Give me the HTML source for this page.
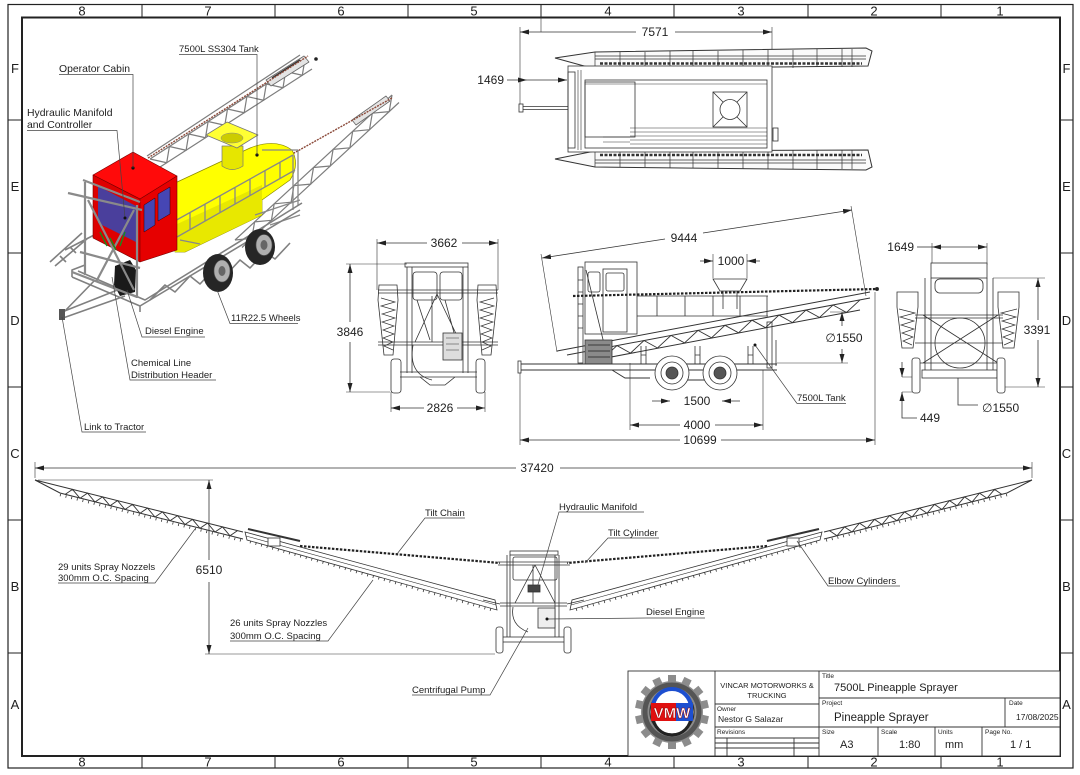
<!DOCTYPE html>
<html><head><meta charset="utf-8"><title>7500L Pineapple Sprayer</title>
<style>
html,body{margin:0;padding:0;background:#fff;width:1080px;height:775px;overflow:hidden}
svg{display:block}
text{font-family:"Liberation Sans","DejaVu Sans",sans-serif;fill:#1e1e1e}
.z{font-size:13px}
.d{font-size:12px}
.l{font-size:9.5px}
.s{font-size:6.5px}
.t{font-size:11.5px}
</style></head><body>
<svg width="1080" height="775" viewBox="0 0 1080 775" xmlns="http://www.w3.org/2000/svg">
<defs>
<marker id="ar" markerUnits="userSpaceOnUse" markerWidth="9" markerHeight="5" refX="9" refY="2.5" orient="auto-start-reverse"><path d="M0,0L9,2.5L0,5z" fill="#222"/></marker>
</defs>
<rect width="1080" height="775" fill="#fff"/>

<!-- BORDER -->
<g fill="none" stroke="#222">
<rect x="8" y="4.5" width="1065" height="763.5" stroke-width="1.2"/>
<rect x="22" y="17.5" width="1038" height="738.5" stroke-width="2"/>
<path stroke-width="1" d="M142,4.5V17.5M275,4.5V17.5M408,4.5V17.5M541,4.5V17.5M674,4.5V17.5M808,4.5V17.5M941,4.5V17.5M142,756V768M275,756V768M408,756V768M541,756V768M674,756V768M808,756V768M941,756V768M8,120H22M8,253H22M8,387H22M8,520H22M8,653H22M1060,120H1073M1060,253H1073M1060,387H1073M1060,520H1073M1060,653H1073"/>
</g>
<g class="z" text-anchor="middle">
<text x="82" y="15.5">8</text><text x="208" y="15.5">7</text><text x="341" y="15.5">6</text><text x="474" y="15.5">5</text><text x="608" y="15.5">4</text><text x="741" y="15.5">3</text><text x="874" y="15.5">2</text><text x="1000" y="15.5">1</text>
<text x="82" y="766.5">8</text><text x="208" y="766.5">7</text><text x="341" y="766.5">6</text><text x="474" y="766.5">5</text><text x="608" y="766.5">4</text><text x="741" y="766.5">3</text><text x="874" y="766.5">2</text><text x="1000" y="766.5">1</text>
<text x="15" y="73">F</text><text x="15" y="191">E</text><text x="15" y="325">D</text><text x="15" y="458">C</text><text x="15" y="591">B</text><text x="15" y="709">A</text>
<text x="1066.5" y="73">F</text><text x="1066.5" y="191">E</text><text x="1066.5" y="325">D</text><text x="1066.5" y="458">C</text><text x="1066.5" y="591">B</text><text x="1066.5" y="709">A</text>
</g>

<!-- ===== ISOMETRIC VIEW ===== -->
<g stroke-linejoin="round">
<!-- boom A -->
<g fill="none" stroke="#7d7d7d" stroke-width="1.2">
<path d="M150,159 L305,59 M157,169 L312,69 M147,156 L300,55"/>
<path d="M150,159 L166.7,162.75 L169.4,146.5 L186.1,150.25 L188.8,134 L205.5,137.75 L208.1,121.5 L224.8,125.25 L227.5,109 L244.2,112.75 L246.9,96.5 L263.6,100.25 L266.3,84 L283,87.75 L285.6,71.5 L302.3,75.25 L305,59"/>
</g>
<path d="M266,80 L304,56 L309,62 L271,86 Z" fill="#e4e4e4" stroke="#666" stroke-width="0.8"/>
<path d="M272,78 L300,60" stroke="#333" stroke-width="1.5"/>
<circle cx="316" cy="59" r="1.8" fill="#222"/>
<line x1="148" y1="158" x2="308" y2="56" stroke="#8b4a3a" stroke-width="1.4" stroke-dasharray="2,1"/>
<!-- boom B -->
<g fill="none" stroke="#7d7d7d" stroke-width="1.2">
<path d="M235,240 L392,95 M242,247.5 L399,102.5"/>
<path d="M235,240 L251.8,238.4 L254.6,221.9 L271.4,220.3 L274.2,203.8 L291.1,202.2 L293.9,185.6 L310.7,184.1 L313.5,167.5 L330.3,166 L333.1,149.4 L349.9,147.8 L352.7,131.3 L369.5,129.7 L372.3,113.2 L389.2,111.6 L392,95"/>
</g>
<path d="M352,120 L386,96 L390,101 L356,125 Z" fill="#e4e4e4" stroke="#666" stroke-width="0.8"/>
<line x1="262" y1="171" x2="392" y2="98" stroke="#8b4a3a" stroke-width="1.4" stroke-dasharray="2,1"/>
<!-- tank -->
<path d="M175,183 L250,148 Q275,138 292,150 Q300,165 290,180 L262,200 L262,215 L185,252 L175,252 Z" fill="#ffff00" stroke="#8a8a00" stroke-width="0.7"/>
<path d="M175,225 L262,185 L262,215 L185,252 L175,252 Z" fill="#e8e800"/>
<path d="M222,146 L222,166 Q232,173 243,166 L243,146 Z" fill="#e6e600" stroke="#777" stroke-width="0.7"/>
<path d="M206,135 L227,122 L258,135 L237,148 Z" fill="#ffff33" stroke="#777" stroke-width="0.8"/>
<ellipse cx="232" cy="138" rx="11" ry="5" fill="#cccc00" stroke="#888" stroke-width="0.5"/>
<circle cx="257" cy="155" r="1.6" fill="#111"/>
<!-- railing -->
<g fill="none" stroke="#888" stroke-width="1.3">
<path d="M173,222 L293,155 M177,237 L295,170 M190,212.5V229.6 M205,204.1V221.1 M220,195.8V212.6 M235,187.4V204.1 M250,179V195.6 M265,170.6V187 M280,162.2V178.5 M293,155V210 M298,150V205"/>
<path d="M180,240 L200,244 M262,150 L298,150 M255,215 L300,200 M270,225 L300,215"/>
</g>
<!-- chassis -->
<g fill="none" stroke="#808080" stroke-width="1.6">
<path d="M72,277 L140,306 L300,210 M78,271 L145,300 L302,203 M72,277 L72,270 L85,265 M140,306 L140,312"/>
<path d="M150,300 L165,285 L175,292 L190,276 L200,284 L215,268 L225,276 L240,260 L250,268 L265,252 L275,259 L290,243"/>
<path d="M62,312 L120,289 M63,318 L125,296 M62,314 L95,280"/>
<path d="M50,262 L82,233 M55,266 L88,238 M60,256 L66,262 M70,247 L76,253 M65,250 L100,232"/>
</g>
<rect x="59" y="309" width="6" height="11" fill="#555"/>
<!-- engine -->
<path d="M115,266 L130,260 L136,270 L135,292 L120,296 L114,285 Z" fill="#1a1a1a"/>
<!-- wheels -->
<ellipse cx="218" cy="273" rx="15" ry="19" fill="#262626"/>
<ellipse cx="222" cy="271" rx="8" ry="11" fill="#b0b0b0" stroke="#555" stroke-width="0.6"/>
<ellipse cx="222" cy="271" rx="3.5" ry="5" fill="#666"/>
<ellipse cx="260" cy="247" rx="15" ry="18" fill="#262626"/>
<ellipse cx="264" cy="245" rx="8" ry="10.5" fill="#b0b0b0" stroke="#555" stroke-width="0.6"/>
<ellipse cx="264" cy="245" rx="3.5" ry="5" fill="#666"/>
<!-- cabin -->
<path d="M93,175 L133,152 L177,176 L140,199 Z" fill="#ff0a0a" stroke="#700" stroke-width="0.6"/>
<path d="M93,175 L140,199 L140,262 L93,238 Z" fill="#dd0000" stroke="#700" stroke-width="0.6"/>
<path d="M140,199 L177,176 L177,250 L140,262 Z" fill="#e60000" stroke="#700" stroke-width="0.6"/>
<path d="M98,186 L136,206 L136,242 L98,223 Z" fill="#4a3f9c"/>
<path d="M144,205 L155,198 L155,225 L144,232 Z M158,194 L170,187 L170,214 L158,221 Z" fill="#4646b4" stroke="#300" stroke-width="0.5"/>
<circle cx="133" cy="168" r="1.6" fill="#111"/>
<!-- front gate frame -->
<g fill="none" stroke="#8a8a8a" stroke-width="2.2">
<path d="M85,182 V275 M137,205 V298 M68,193 L142,210 M83,180 L140,202 M80,252 L140,268 M88,200 L134,290 M134,210 L96,282 M72,272 L137,297"/>
</g>
<g fill="none" stroke="#1a8a1a" stroke-width="1.4"><path d="M100,232 L107,246 M120,246 L125,232 M110,238 L116,250"/></g>
</g>
<!-- iso labels -->
<g class="l">
<text x="179" y="52">7500L SS304 Tank</text>
<text x="59" y="72" style="font-size:10.4px">Operator Cabin</text>
<text x="27" y="116" style="font-size:10.4px">Hydraulic Manifold</text>
<text x="27" y="128" style="font-size:10.4px">and Controller</text>
<text x="145" y="334">Diesel Engine</text>
<text x="131" y="366">Chemical Line</text>
<text x="131" y="378">Distribution Header</text>
<text x="231" y="321">11R22.5 Wheels</text>
<text x="84" y="430">Link to Tractor</text>
</g>
<g fill="none" stroke="#444" stroke-width="0.7">
<path d="M179,54.5H257V155 M59,74.5H133V168 M27,130.5H117L125,218 M205,337H142L127,290 M216,380H130L112,277 M298,323.5H230L217,290 M146,432H82L62,317"/>
</g>
<circle cx="125" cy="218" r="1.5" fill="#111"/>

<!-- ===== PLAN VIEW ===== -->
<g fill="none" stroke="#333" stroke-width="0.8">
<path d="M520,27V104 M772,27V64 M541,17V32" stroke-width="0.6"/>
<line x1="520" y1="32" x2="636" y2="32" marker-start="url(#ar)"/>
<line x1="675" y1="32" x2="772" y2="32" marker-end="url(#ar)"/>
<line x1="507" y1="80" x2="527" y2="80" marker-end="url(#ar)"/>
<line x1="527" y1="80" x2="567" y2="80" marker-end="url(#ar)"/>
<path d="M555,58 L595,52 L866,48 L872,51 L868,66 L595,69 Z" fill="#fafafa" stroke-width="1"/>
<path d="M595,56H866 M595,59H866 M595,52V69 M620,52V69 M645,52V69 M670,51V69 M693,51V69 M718,51V68 M743,50V68 M768,50V68 M793,50V68 M817,49V67 M842,49V67 M852,49V67" stroke-width="0.7"/>
<line x1="600" y1="63.5" x2="862" y2="63.5" stroke-width="2.4" stroke-dasharray="3,1.5"/>
<path d="M555,159 L595,167 L866,170 L872,167 L868,150 L595,151 Z" fill="#fafafa" stroke-width="1"/>
<path d="M595,163H866 M595,160H866 M595,151V167 M620,151V167 M645,151V167 M670,151V168 M693,151V168 M718,151V168 M743,150V169 M768,150V169 M793,150V169 M817,150V169 M842,150V169 M852,150V169" stroke-width="0.7"/>
<line x1="600" y1="155" x2="862" y2="155" stroke-width="2.4" stroke-dasharray="3,1.5"/>
<rect x="568" y="66" width="204" height="86" fill="#fff"/>
<rect x="568" y="72" width="7" height="76"/>
<rect x="585" y="80" width="182" height="68"/>
<rect x="585" y="82" width="50" height="55"/>
<path d="M585,84H767 M630,128H767 M630,132H767 M630,136H767 M630,140H767 M630,144H767 M603,137H630 M603,142H630 M578,70V150 M581,70V150" stroke-width="0.6"/>
<rect x="713" y="92" width="34" height="35"/>
<circle cx="730" cy="109.5" r="10"/>
<path d="M713,92L723,102 M747,92L737,102 M713,127L723,117 M747,127L737,117"/>
<rect x="773" y="128" width="5" height="13"/>
<path d="M520,106.5H568 M520,109.5H568"/>
<rect x="519" y="104" width="4" height="8" fill="#fff"/>
</g>
<text x="655" y="36" class="d" text-anchor="middle">7571</text>
<text x="504" y="84" class="d" text-anchor="end">1469</text>

<!-- ===== FRONT VIEW ===== -->
<g fill="none" stroke="#333" stroke-width="0.8">
<path d="M377,239V290 M498,239V290 M346,264H407 M346,392H390 M391,392V412 M485,392V412" stroke-width="0.6"/>
<line x1="377" y1="243" x2="427" y2="243" marker-start="url(#ar)"/>
<line x1="462" y1="243" x2="498" y2="243" marker-end="url(#ar)"/>
<line x1="350" y1="264" x2="350" y2="322" marker-start="url(#ar)"/>
<line x1="350" y1="342" x2="350" y2="392" marker-end="url(#ar)"/>
<line x1="391" y1="408" x2="424" y2="408" marker-start="url(#ar)"/>
<line x1="457" y1="408" x2="485" y2="408" marker-end="url(#ar)"/>
<rect x="405" y="263" width="63" height="4"/>
<path d="M407,267V373 M412,267V373 M463,267V373 M468,267V373"/>
<rect x="413" y="272" width="24" height="28" rx="3"/>
<rect x="440" y="272" width="22" height="28" rx="3"/>
<path d="M378,290H498 M378,293H498 M378,342H498 M378,345H498"/>
<path d="M437,294 L415,342 M437,294 L460,342 M432,296 L432,342 M417,300 L430,340 M445,300 L456,340"/>
<g id="fb">
<path d="M379,285 L397,285 L398,300 L393,355 L384,355 L378,300 Z"/>
<path d="M381,298 L395,302 L381,306 L395,310 L382,314 L395,318 L382,322 L394,326 L383,330 L394,334 L383,338 L393,342 L384,346 L393,350" stroke-width="0.7"/>
</g>
<use href="#fb" transform="translate(875,0) scale(-1,1)"/>
<path d="M413,345 Q408,374 432,380"/>
<rect x="443" y="333" width="19" height="27" fill="#ddd"/>
<path d="M446,338H459 M446,344H459 M446,350H459" stroke-width="0.6"/>
<rect x="391" y="359" width="10" height="34" rx="3" fill="#fff"/>
<rect x="476" y="359" width="9" height="34" rx="3" fill="#fff"/>
<path d="M400,372H477 M400,377H477 M420,377 L430,385 L445,385 L455,377"/>
</g>
<g class="d" text-anchor="middle">
<text x="444" y="247">3662</text>
<text x="350" y="336">3846</text>
<text x="440" y="412">2826</text>
</g>

<!-- ===== SIDE VIEW ===== -->
<g fill="none" stroke="#333" stroke-width="0.8">
<path d="M557,352 L541,254 M866,296 L851,206 M713,254V278 M747,254V278 M830,312H848 M777,363H848 M630,363V430 M763,370V430 M520,373V445 M875,292V445" stroke-width="0.6"/>
<line x1="542" y1="258" x2="665" y2="239" marker-start="url(#ar)"/>
<line x1="703" y1="233" x2="852" y2="210" marker-end="url(#ar)"/>
<line x1="700" y1="261" x2="713" y2="261" marker-end="url(#ar)"/>
<line x1="760" y1="261" x2="747" y2="261" marker-end="url(#ar)"/>
<line x1="842" y1="326" x2="842" y2="312" marker-end="url(#ar)"/>
<line x1="842" y1="349" x2="842" y2="363" marker-end="url(#ar)"/>
<line x1="652" y1="401" x2="670" y2="401" marker-end="url(#ar)"/>
<line x1="740" y1="401" x2="722" y2="401" marker-end="url(#ar)"/>
<line x1="630" y1="425" x2="680" y2="425" marker-start="url(#ar)"/>
<line x1="715" y1="425" x2="763" y2="425" marker-end="url(#ar)"/>
<line x1="520" y1="440" x2="680" y2="440" marker-start="url(#ar)"/>
<line x1="721" y1="440" x2="875" y2="440" marker-end="url(#ar)"/>
<!-- cabin -->
<rect x="585" y="262" width="52" height="72" fill="#fff"/>
<rect x="588" y="272" width="12" height="20" rx="2"/>
<rect x="603" y="269" width="24" height="63"/>
<rect x="606" y="273" width="18" height="18" rx="2"/>
<rect x="578" y="267" width="5" height="96" fill="#fff"/>
<path d="M578,280H583 M578,292H583 M578,304H583 M578,316H583 M578,328H583 M586,270 L608,360"/>
<!-- railing -->
<path d="M637,296H768 M637,316H768 M657,296V316 M685,296V316 M713,296V316 M740,296V316 M767,296V316"/>
<!-- funnel -->
<path d="M713,279H747L740,291H720Z M723,291V309 M737,291V309" fill="#fff"/>
<!-- boom truss -->
<path d="M557,351 L870,292 M567,355 L870,298 M590,361 L860,310" stroke-width="1"/>
<path d="M590,350.7 L603.5,358.1 L617,345.6 L630.5,353.1 L644,340.5 L657.5,348 L671,335.4 L684.5,342.9 L698,330.4 L711.5,337.8 L725,325.3 L738.5,332.8 L752,320.2 L765.5,327.7 L779,315.1 L792.5,322.6 L806,310.1 L819.5,317.5 L833,305 L846.5,312.5 L860,299.9" stroke-width="0.9"/>
<line x1="573" y1="296" x2="877" y2="289" stroke="#222" stroke-width="2.2" stroke-dasharray="2.5,1.5"/>
<circle cx="877" cy="289" r="1.6" fill="#222"/>
<!-- posts -->
<path d="M641,346V364 M646,346V364 M641,355H646 M695,346V364 M700,346V364 M695,355H700 M748,346V364 M753,346V364 M748,355H753"/>
<rect x="767" y="322" width="5" height="46"/>
<path d="M776,340V366"/>
<!-- engine -->
<rect x="585" y="340" width="27" height="24" fill="#8a8a8a"/>
<path d="M588,345H610 M588,351H610 M588,357H610" stroke="#222"/>
<!-- chassis -->
<path d="M520,364H777 M520,370H777 M657,370 L665,380 H730 L737,370 M612,370 L625,378 H650" stroke-width="0.9"/>
<rect x="518" y="361" width="3" height="12" fill="#fff"/>
<circle cx="672" cy="373" r="17" fill="#fff"/>
<circle cx="672" cy="373" r="11"/>
<circle cx="672" cy="373" r="6" fill="#555"/>
<circle cx="720" cy="373" r="17" fill="#fff"/>
<circle cx="720" cy="373" r="11"/>
<circle cx="720" cy="373" r="6" fill="#555"/>
<path d="M797,403.5H846 M797,403.5L755,345" stroke="#444" stroke-width="0.7"/>
</g>
<circle cx="755" cy="345" r="1.5" fill="#111"/>
<g class="d" text-anchor="middle">
<text x="684" y="242">9444</text>
<text x="731" y="265">1000</text>
<text x="844" y="342">∅1550</text>
<text x="697" y="405">1500</text>
<text x="697" y="429">4000</text>
<text x="700" y="444">10699</text>
</g>
<text x="797" y="401" class="l">7500L Tank</text>

<!-- ===== REAR VIEW ===== -->
<g fill="none" stroke="#333" stroke-width="0.8">
<path d="M932,243V265 M987,243V265 M993,278H1045 M1005,387H1045 M902,377H912 M902,392H912" stroke-width="0.6"/>
<line x1="917" y1="247" x2="932" y2="247"/>
<line x1="987" y1="247" x2="932" y2="247" marker-start="url(#ar)" marker-end="url(#ar)"/>
<line x1="1038" y1="320" x2="1038" y2="278" marker-end="url(#ar)"/>
<line x1="1038" y1="340" x2="1038" y2="387" marker-end="url(#ar)"/>
<line x1="902" y1="362" x2="902" y2="377" marker-end="url(#ar)"/>
<path d="M917,418H902V392" marker-end="url(#ar)"/>
<path d="M958,377V405H978"/>
<rect x="931" y="263" width="56" height="15" fill="#fff"/>
<rect x="935" y="279" width="48" height="14" rx="5"/>
<path d="M925,278V377 M931,278V377 M987,278V377 M993,278V377"/>
<circle cx="960" cy="343" r="25"/>
<path d="M915,315H1003 M915,318H1003 M915,343H1003 M915,363H1003 M923,315 L998,363 M998,315 L923,363"/>
<rect x="922" y="370" width="75" height="8" fill="#fff"/>
<g id="rb">
<path d="M897,292 H918 V307 L913,348 H902 L897,307 Z"/>
<path d="M899,309 L915,313 L900,317 L914,321 L901,325 L914,329 L902,333 L913,337 L903,341 L912,345" stroke-width="0.7"/>
</g>
<use href="#rb" transform="translate(1916,0) scale(-1,1)"/>
<rect x="912" y="358" width="8" height="35" rx="2.5" fill="#fff"/>
<rect x="997" y="358" width="8" height="35" rx="2.5" fill="#fff"/>
</g>
<g class="d">
<text x="914" y="251" text-anchor="end">1649</text>
<text x="1037" y="334" text-anchor="middle">3391</text>
<text x="920" y="422">449</text>
<text x="982" y="412">∅1550</text>
</g>

<!-- ===== BOOM FRONT VIEW ===== -->
<g fill="none" stroke="#333" stroke-width="0.8">
<path d="M35,462V478 M1032,462V478 M38,480H213 M205,654H495" stroke-width="0.6"/>
<line x1="35" y1="468" x2="516" y2="468" marker-start="url(#ar)"/>
<line x1="560" y1="468" x2="1032" y2="468" marker-end="url(#ar)"/>
<line x1="209" y1="480" x2="209" y2="560" marker-start="url(#ar)"/>
<line x1="209" y1="582" x2="209" y2="654" marker-end="url(#ar)"/>
<g id="lb">
<path d="M35,480 L243,532 M35,480 L60,493 L243,539" stroke-width="1"/>
<path d="M65,494.5 L72.5,489.4 L80,498.25 L87.5,493.1 L95,502 L102.5,496.9 L110,505.75 L117.5,500.6 L125,509.5 L132.5,504.4 L140,513.25 L147.5,508.1 L155,517 L162.5,511.9 L170,520.75 L177.5,515.6 L185,524.5 L192.5,519.4 L200,528.25 L207.5,523.1 L215,532 L222.5,526.9 L230,535.75 L237.5,530.6" stroke-width="0.9"/>
<line x1="60" y1="495" x2="243" y2="541" stroke-width="2.5" stroke-dasharray="0.8,5"/>
<path d="M245,532 L495,600 L497,610 L247,540 Z" fill="#fff"/>
<path d="M246,536 L496,605" stroke-width="0.6"/>
<line x1="250" y1="542" x2="495" y2="611" stroke-width="2.5" stroke-dasharray="0.8,5"/>
<path d="M248,529 L300,541" stroke-width="2"/>
<rect x="268" y="538" width="12" height="8" fill="#fff"/>
<line x1="300" y1="546" x2="500" y2="563" stroke="#222" stroke-width="2.2" stroke-dasharray="2.5,1.5"/>
<path d="M483,600 L500,604"/>
</g>
<use href="#lb" transform="translate(1067,0) scale(-1,1)"/>
<!-- center cab -->
<rect x="510" y="551" width="48" height="4" fill="#fff"/>
<path d="M507,555V642 M510,555V642 M555,555V642 M559,555V642"/>
<rect x="513" y="557" width="44" height="23" rx="2"/>
<path d="M498,562H570 M498,565H570 M500,603H567 M500,606H567"/>
<path d="M535,565 L515,603 M535,565 L555,603 M533,565V603"/>
<rect x="528" y="585" width="12" height="7" fill="#444"/>
<path d="M513,607 Q510,625 528,632"/>
<rect x="538" y="608" width="17" height="20" fill="#eee"/>
<rect x="500" y="637" width="68" height="5" fill="#fff"/>
<rect x="496" y="627" width="7" height="26" rx="2.5" fill="#fff"/>
<rect x="564" y="627" width="7" height="26" rx="2.5" fill="#fff"/>
<!-- leaders -->
<g stroke="#444" stroke-width="0.7">
<path d="M58,583H155L195,529 M230,641H328L373,580 M465,518H425L397,554 M644,512H559L537,588 M659,538H608L585,563 M705,618H646L548,619 M412,695H490L528,628 M900,586H828L797,541"/>
</g>
</g>
<circle cx="547" cy="619" r="1.5" fill="#111"/>
<text x="537" y="472" class="d" text-anchor="middle">37420</text>
<text x="209" y="574" class="d" text-anchor="middle">6510</text>
<g class="l">
<text x="58" y="570">29 units Spray Nozzels</text>
<text x="58" y="581">300mm O.C. Spacing</text>
<text x="230" y="626">26 units Spray Nozzles</text>
<text x="230" y="639">300mm O.C. Spacing</text>
<text x="425" y="516">Tilt Chain</text>
<text x="559" y="510">Hydraulic Manifold</text>
<text x="608" y="536">Tilt Cylinder</text>
<text x="646" y="615">Diesel Engine</text>
<text x="412" y="693">Centrifugal Pump</text>
<text x="828" y="584">Elbow Cylinders</text>
</g>

<!-- ===== TITLE BLOCK ===== -->
<g fill="none" stroke="#333" stroke-width="0.9">
<rect x="628" y="671" width="432" height="85" fill="#fff"/>
<path d="M715,671V756 M819,671V756 M819,698H1060 M819,727H1060 M1005,698V727 M878,727V756 M935,727V756 M982,727V756 M715,704H819 M715,727H819 M715,738H819 M715,743H819 M715,748H819 M727,738V756 M794,738V756" />
</g>
<!-- logo -->
<g transform="translate(672,712)">
<g fill="#8c8c8c">
<circle r="31"/>
<rect x="-4" y="-37" width="8" height="9" transform="rotate(0)"/>
<rect x="-4" y="-37" width="8" height="9" transform="rotate(25.7)"/>
<rect x="-4" y="-37" width="8" height="9" transform="rotate(51.4)"/>
<rect x="-4" y="-37" width="8" height="9" transform="rotate(77.1)"/>
<rect x="-4" y="-37" width="8" height="9" transform="rotate(102.8)"/>
<rect x="-4" y="-37" width="8" height="9" transform="rotate(128.5)"/>
<rect x="-4" y="-37" width="8" height="9" transform="rotate(154.2)"/>
<rect x="-4" y="-37" width="8" height="9" transform="rotate(180)"/>
<rect x="-4" y="-37" width="8" height="9" transform="rotate(205.7)"/>
<rect x="-4" y="-37" width="8" height="9" transform="rotate(231.4)"/>
<rect x="-4" y="-37" width="8" height="9" transform="rotate(257.1)"/>
<rect x="-4" y="-37" width="8" height="9" transform="rotate(282.8)"/>
<rect x="-4" y="-37" width="8" height="9" transform="rotate(308.5)"/>
<rect x="-4" y="-37" width="8" height="9" transform="rotate(334.2)"/>
</g>
<circle r="27" fill="none" stroke="#555" stroke-width="5"/>
<circle r="22" fill="#fff" stroke="#333" stroke-width="1.2"/>
<path d="M-19,-4 A19,19 0 0 1 19,-4" fill="none" stroke="#1d4fd0" stroke-width="4"/>
<path d="M-19,4 A19,19 0 0 0 19,4" fill="none" stroke="#222" stroke-width="3"/>
<rect x="-21" y="-9" width="25" height="18" fill="#e01010"/>
<rect x="4" y="-9" width="17" height="18" fill="#1d4fd0"/>
<text x="0" y="6" text-anchor="middle" style="font-size:15px;font-weight:bold;fill:#fff;stroke:#900;stroke-width:0.5">VMW</text>
</g>
<g>
<text x="767" y="688" text-anchor="middle" style="font-size:7.5px">VINCAR MOTORWORKS &amp;</text>
<text x="767" y="698" text-anchor="middle" style="font-size:7.5px">TRUCKING</text>
<text x="717" y="711" class="s">Owner</text>
<text x="718" y="722" style="font-size:8.5px">Nestor G Salazar</text>
<text x="717" y="734" class="s">Revisions</text>
<text x="822" y="678" class="s">Title</text>
<text x="834" y="691" style="font-size:11px">7500L Pineapple Sprayer</text>
<text x="822" y="705" class="s">Project</text>
<text x="834" y="721" class="t">Pineapple Sprayer</text>
<text x="1009" y="705" class="s">Date</text>
<text x="1016" y="720" style="font-size:8.5px">17/08/2025</text>
<text x="822" y="734" class="s">Size</text>
<text x="840" y="748" style="font-size:11px">A3</text>
<text x="881" y="734" class="s">Scale</text>
<text x="899" y="748" style="font-size:11px">1:80</text>
<text x="938" y="734" class="s">Units</text>
<text x="945" y="748" style="font-size:11px">mm</text>
<text x="985" y="734" class="s">Page No.</text>
<text x="1010" y="748" style="font-size:11px">1 / 1</text>
</g>
</svg>
</body></html>
